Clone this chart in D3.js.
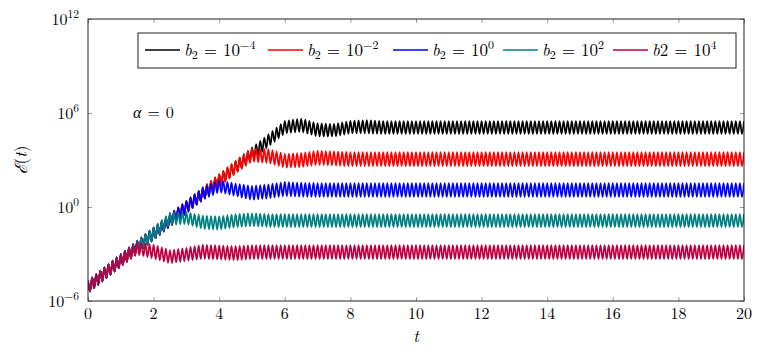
<!DOCTYPE html>
<html lang="en">
<head>
<meta charset="UTF-8">
<title>Energy growth for several b2</title>
<script src="https://d3js.org/d3.v7.min.js"></script>
<style>
  body { margin: 0; background: #fff; }
  svg { font-family: "Latin Modern Roman", "Liberation Serif", serif; }
  .tick line { stroke: #999; }
  .domain { display: none; }
</style>
</head>
<body>
<svg width="766" height="355"></svg>
<script>
var tKnots = [0, 0.5, 1, 1.5, 2, 2.5, 3, 3.5, 4, 4.5, 5, 5.5, 6, 6.5, 7, 7.5, 8, 8.5, 9, 20];
// oscillation period in t
var period = 0.125;

// log10 of E(t) at the oscillation peaks / troughs, one pair per b2 value
var peakBm4   = [-4.7, -3.85, -3.0, -2.15, -1.3, -0.45, 0.4, 1.25, 2.1, 2.95, 3.8, 4.65, 5.5, 5.65, 5.35, 5.3, 5.5, 5.55, 5.49, 5.49];
var troughBm4 = [-5.5, -4.65, -3.8, -2.95, -2.1, -1.25, -0.4, 0.45, 1.3, 2.15, 3.0, 3.85, 4.7, 4.8, 4.5, 4.5, 4.7, 4.7, 4.66, 4.66];
var peakBm2   = [-4.7, -3.85, -3.0, -2.15, -1.3, -0.45, 0.4, 1.25, 2.1, 2.95, 3.75, 3.7, 3.4, 3.45, 3.6, 3.55, 3.5, 3.5, 3.5, 3.5];
var troughBm2 = [-5.5, -4.65, -3.8, -2.95, -2.1, -1.25, -0.4, 0.45, 1.3, 2.15, 2.9, 2.8, 2.5, 2.55, 2.7, 2.65, 2.6, 2.6, 2.6, 2.6];
var peakB0    = [-4.7, -3.85, -3.0, -2.15, -1.3, -0.45, 0.4, 1.25, 1.7, 1.5, 1.35, 1.45, 1.6, 1.55, 1.53, 1.53, 1.53, 1.53, 1.53, 1.53];
var troughB0  = [-5.5, -4.65, -3.8, -2.95, -2.1, -1.25, -0.4, 0.45, 0.95, 0.7, 0.45, 0.55, 0.7, 0.65, 0.64, 0.64, 0.64, 0.64, 0.64, 0.64];
var peakB2    = [-4.7, -3.85, -3.0, -2.15, -1.3, -0.35, -0.32, -0.55, -0.6, -0.45, -0.4, -0.45, -0.45, -0.45, -0.45, -0.45, -0.45, -0.45, -0.45, -0.45];
var troughB2  = [-5.5, -4.65, -3.8, -2.95, -2.1, -1.15, -1.08, -1.4, -1.45, -1.3, -1.22, -1.28, -1.28, -1.28, -1.28, -1.28, -1.28, -1.28, -1.28, -1.28];
var peakB4    = [-4.7, -3.85, -3.0, -2.25, -2.4, -2.75, -2.6, -2.4, -2.45, -2.5, -2.43, -2.43, -2.43, -2.43, -2.43, -2.43, -2.43, -2.43, -2.43, -2.43];
var troughB4  = [-5.5, -4.65, -3.8, -3.05, -3.3, -3.6, -3.45, -3.3, -3.35, -3.4, -3.32, -3.32, -3.32, -3.32, -3.32, -3.32, -3.32, -3.32, -3.32, -3.32];

var xTicks = [0, 2, 4, 6, 8, 10, 12, 14, 16, 18, 20];
var yTicks = [1e-6, 1, 1e6, 1e12];
var yTickExp = ["\u22126", "0", "6", "12"];

var series = [
  { name: "b2m4", peak: peakBm4, trough: troughBm4, color: "#000000", sub: true, exp: "\u22124" },
  { name: "b2m2", peak: peakBm2, trough: troughBm2, color: "#ff0000", sub: true, exp: "\u22122" },
  { name: "b20",  peak: peakB0,  trough: troughB0,  color: "#0000ff", sub: true, exp: "0" },
  { name: "b22",  peak: peakB2,  trough: troughB2,  color: "#008080", sub: true, exp: "2" },
  { name: "b24",  peak: peakB4,  trough: troughB4,  color: "#bf0040", sub: false, exp: "4" }
];

var pL = 88, pR = 744, pT = 19, pB = 301;
var svg = d3.select("svg");

var x = d3.scaleLinear().domain([0, 20]).range([pL, pR]);
var y = d3.scaleLog().domain([1e-6, 1e12]).range([pB, pT]);

// clip the curves to the axis box
svg.append("clipPath").attr("id", "plotclip")
  .append("rect").attr("x", pL).attr("y", pT)
  .attr("width", pR - pL).attr("height", pB - pT);

// build the oscillating curve from peak / trough envelopes
function buildPoints(s) {
  var up = d3.scaleLinear().domain(tKnots).range(s.peak);
  var lo = d3.scaleLinear().domain(tKnots).range(s.trough);
  var pts = [];
  var n = Math.round(20 / (period / 2));
  for (var k = 0; k <= n; k++) {
    var t = k * period / 2;
    var e = (k % 2 === 0) ? up(t) : lo(t);
    pts.push([t, Math.pow(10, e)]);
  }
  return pts;
}

var line = d3.line()
  .x(function(d) { return x(d[0]); })
  .y(function(d) { return y(d[1]); })
  .curve(d3.curveMonotoneX);

var plot = svg.append("g").attr("clip-path", "url(#plotclip)");
series.forEach(function(s) {
  plot.append("path")
    .datum(buildPoints(s))
    .attr("fill", "none")
    .attr("stroke", s.color)
    .attr("stroke-width", 1.7)
    .attr("d", line);
});

// axes: ticks inside on all four sides
svg.append("g").attr("transform", "translate(0," + pB + ")")
  .call(d3.axisBottom(x).tickValues(xTicks).tickSize(-4).tickFormat(""));
svg.append("g").attr("transform", "translate(0," + pT + ")")
  .call(d3.axisTop(x).tickValues(xTicks).tickSize(-4).tickFormat(""));
svg.append("g").attr("transform", "translate(" + pL + ",0)")
  .call(d3.axisLeft(y).tickValues(yTicks).tickSize(-4).tickFormat(""));
svg.append("g").attr("transform", "translate(" + pR + ",0)")
  .call(d3.axisRight(y).tickValues(yTicks).tickSize(-4).tickFormat(""));

svg.append("rect")
  .attr("x", pL).attr("y", pT)
  .attr("width", pR - pL).attr("height", pB - pT)
  .attr("fill", "none").attr("stroke", "#222").attr("stroke-width", 1);

// x tick labels
svg.selectAll(".xlab").data(xTicks).enter().append("text")
  .attr("class", "xlab")
  .attr("x", function(d) { return x(d); })
  .attr("y", pB + 18)
  .attr("text-anchor", "middle")
  .attr("font-size", 16)
  .text(function(d) { return d; });

// y tick labels as 10^k
yTicks.forEach(function(v, i) {
  var tx = svg.append("text")
    .attr("x", pL - 9)
    .attr("y", y(v) + 6)
    .attr("text-anchor", "end")
    .attr("font-size", 16);
  tx.append("tspan").text("10");
  tx.append("tspan").attr("font-size", 11.5).attr("dy", -7).text(yTickExp[i]);
});

// axis titles
svg.append("text")
  .attr("x", (pL + pR) / 2).attr("y", 342)
  .attr("text-anchor", "middle")
  .attr("font-size", 17).attr("font-style", "italic")
  .text("t");

var ylab = svg.append("text")
  .attr("transform", "translate(27," + ((pT + pB) / 2) + ") rotate(-90)")
  .attr("text-anchor", "middle")
  .attr("font-size", 17);
ylab.append("tspan").attr("font-family", "DejaVu Serif").attr("font-style", "italic").text("\u2130");
ylab.append("tspan").text("(");
ylab.append("tspan").attr("font-style", "italic").text("t");
ylab.append("tspan").text(")");

// annotation
var ann = svg.append("text").attr("x", 133).attr("y", 118).attr("font-size", 16);
ann.append("tspan").attr("font-style", "italic").text("\u03b1");
ann.append("tspan").attr("dx", 6).text("=");
ann.append("tspan").attr("dx", 6).text("0");

// legend
var legend = svg.append("g");
legend.append("rect")
  .attr("x", 138).attr("y", 33).attr("width", 598).attr("height", 35)
  .attr("fill", "#fff").attr("stroke", "#222").attr("stroke-width", 1);

var legX = [145, 268, 393, 503, 613];
series.forEach(function(s, i) {
  var x0 = legX[i];
  legend.append("line")
    .attr("x1", x0).attr("x2", x0 + 35)
    .attr("y1", 50).attr("y2", 50)
    .attr("stroke", s.color).attr("stroke-width", 1.5);
  var tx = legend.append("text")
    .attr("x", x0 + 39).attr("y", 56)
    .attr("font-size", 17);
  tx.append("tspan").attr("font-style", "italic").text("b");
  if (s.sub) {
    tx.append("tspan").attr("font-size", 12).attr("dy", 3).text("2");
    tx.append("tspan").attr("dy", -3).attr("dx", 6).text("=");
  } else {
    tx.append("tspan").text("2");
    tx.append("tspan").attr("dx", 6).text("=");
  }
  tx.append("tspan").attr("dx", 6).text("10");
  tx.append("tspan").attr("font-size", 12).attr("dy", -7).text(s.exp);
});
</script>
</body>
</html>
